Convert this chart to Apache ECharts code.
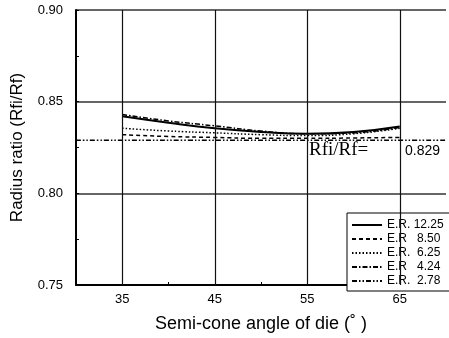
<!DOCTYPE html>
<html>
<head>
<meta charset="utf-8">
<script src="https://cdn.jsdelivr.net/npm/echarts@6/dist/echarts.min.js"></script>
<style>html,body{margin:0;padding:0;background:#fff;}#c{width:449px;height:338px;}</style>
</head>
<body>
<div id="c"></div>
<script>
var angles = [35, 40, 45, 50, 55, 60, 65];
var er1225 = [0.842, 0.8385, 0.8355, 0.8335, 0.8325, 0.8335, 0.8365];
var er850 = [0.832, 0.831, 0.8305, 0.8300, 0.8300, 0.8302, 0.8305];
var er625 = [0.8355, 0.8340, 0.8330, 0.8320, 0.8315, 0.8325, 0.8355];
var er424 = [0.843, 0.8395, 0.8368, 0.8340, 0.8325, 0.8330, 0.8360];
var angles278 = [30, 70];
var er278 = [0.829, 0.829];
var gridAngles = [35, 45, 55, 65];
var labelAngles = [35, 45, 55, 65];
var names = ['E.R. 12.25', 'E.R   8.50', 'E.R.  6.25', 'E.R   4.24', 'E.R.  2.78'];

function pairs(xs, ys) { return xs.map(function (x, i) { return [x, ys[i]]; }); }

var font = 'Liberation Sans, Arial, sans-serif';
var chart = echarts.init(document.getElementById('c'));
function lineSeries(name, data, type, width) {
  return {
    name: name, type: 'line', data: data, symbol: 'none', smooth: true,
    lineStyle: { color: '#000', width: width, type: type }, itemStyle: { color: '#000' },
    z: 3
  };
}
var series = [
  lineSeries(names[0], pairs(angles, er1225), 'solid', 2),
  lineSeries(names[1], pairs(angles, er850), [4, 3], 1.5),
  lineSeries(names[2], pairs(angles, er625), [1.5, 2], 1.5),
  lineSeries(names[3], pairs(angles, er424), [5, 2, 1.5, 2], 1.5),
  lineSeries(names[4], pairs(angles278, er278), [5, 2, 1.5, 2, 1.5, 2], 1.5)
];
series[0].markLine = {
  silent: true, symbol: 'none', label: { show: false },
  lineStyle: { color: '#111', width: 1.2, type: 'solid' },
  data: gridAngles.map(function (a) { return { xAxis: a }; })
};
chart.setOption({
  animation: false,
  grid: { left: 76, right: 0, top: 10, bottom: 48 },
  xAxis: {
    type: 'value', min: 30, max: 70, interval: 5,
    name: 'Semi-cone angle of die (˚ )', nameLocation: 'middle', nameGap: 30,
    nameTextStyle: { fontFamily: font, fontSize: 18, color: '#000' },
    axisLine: { lineStyle: { color: '#000', width: 2 } },
    axisTick: { show: true, inside: true, length: 3, lineStyle: { color: '#000' } },
    axisLabel: {
      fontFamily: font, fontSize: 13, color: '#000', margin: 8,
      formatter: function (v) { return labelAngles.indexOf(v) >= 0 ? String(v) : ''; }
    },
    splitLine: { show: false }
  },
  yAxis: {
    type: 'value', min: 0.75, max: 0.90, interval: 0.05,
    name: 'Radius ratio (Rfi/Rf)', nameLocation: 'middle', nameGap: 50,
    nameTextStyle: { fontFamily: font, fontSize: 17, color: '#000' },
    axisLine: { show: true, lineStyle: { color: '#000', width: 2 } },
    axisTick: { show: true, inside: true, length: 3, lineStyle: { color: '#000' } },
    minorTick: { show: true, splitNumber: 2, length: 3, lineStyle: { color: '#000' } },
    axisLabel: {
      fontFamily: font, fontSize: 13, color: '#000', margin: 13,
      formatter: function (v) { return v.toFixed(2); }
    },
    splitLine: { show: true, lineStyle: { color: '#333', width: 1.5 } }
  },
  legend: {
    orient: 'vertical', left: 347, top: 213,
    itemWidth: 30, itemHeight: 10, itemGap: 2,
    padding: [6, 20, 4, 4],
    backgroundColor: '#fff', borderColor: '#000', borderWidth: 1,
    itemStyle: { opacity: 0 },
    lineStyle: { color: '#000' },
    textStyle: { fontFamily: font, fontSize: 12, color: '#000' },
    data: names
  },
  graphic: [
    { type: 'text', left: 309, top: 141,
      style: { text: 'Rfi/Rf=', font: '19px "Liberation Serif", "Times New Roman", serif', fill: '#000' } },
    { type: 'text', left: 405, top: 144,
      style: { text: '0.829', font: '14px "Liberation Sans", Arial, sans-serif', fill: '#000' } }
  ],
  series: series
});
</script>
</body>
</html>
